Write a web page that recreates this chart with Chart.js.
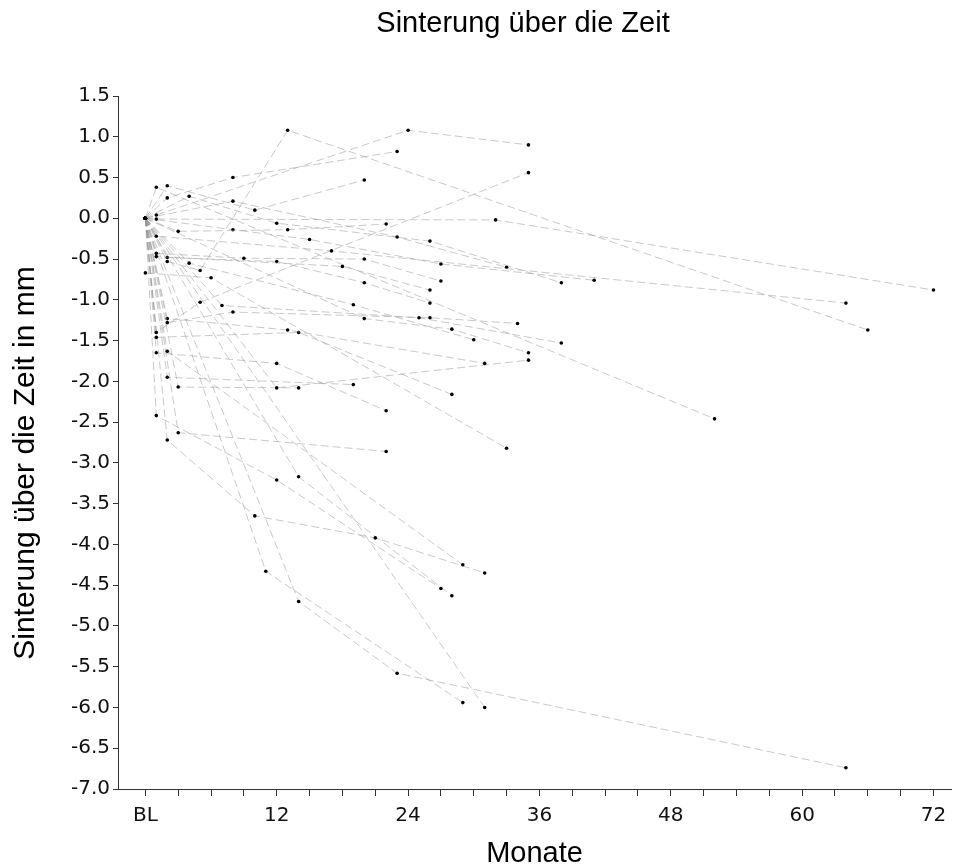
<!DOCTYPE html>
<html lang="de">
<head>
<meta charset="utf-8">
<title>Sinterung über die Zeit</title>
<script src="https://cdn.jsdelivr.net/npm/chart.js@4.4.1/dist/chart.umd.min.js"></script>
<style>
  html, body { margin: 0; padding: 0; background: #fff; }
  #wrap { width: 955px; height: 867px; }
</style>
</head>
<body>
<div id="wrap"><canvas id="sinterChart" width="955" height="867"></canvas></div>
<script>
// Untersuchungszeitpunkte je Patient in Monaten (BL = 0)
const visitMonths = [
  [0, 1, 52],
  [0, 2, 10, 20],
  [0, 2, 8, 23],
  [0, 1, 24, 35],
  [0, 1, 32, 72],
  [0, 2, 5, 13, 66],
  [0, 1, 5, 35],
  [0, 1, 17, 64],
  [0, 4, 12, 26, 38],
  [0, 8, 23, 33],
  [0, 3, 13, 22],
  [0, 8, 15, 27, 41],
  [0, 1, 9, 20, 27],
  [0, 1, 18, 26],
  [0, 2, 12, 20, 26],
  [0, 4, 19, 30],
  [0, 6, 33],
  [0, 7, 25, 38],
  [0, 2, 8, 26, 34],
  [0, 2, 13, 31],
  [0, 1, 14, 28],
  [0, 1, 12, 22],
  [0, 2, 19],
  [0, 12, 35],
  [0, 20, 28, 35],
  [0, 3, 14],
  [0, 2, 29],
  [0, 1, 12, 27],
  [0, 3, 22],
  [0, 2, 10, 21, 31],
  [0, 14, 28],
  [0, 11, 29],
  [0, 14, 23, 64],
  [0, 31],
];

// Sinterung in mm, gleiche Reihenfolge wie visitMonths
const sinterung = [
  [0, 0.38, -2.46],
  [0, 0.40, 0.10, 0.47],
  [0, 0.25, 0.50, 0.82],
  [0, 0.04, 1.08, 0.90],
  [0, -0.01, -0.02, -0.88],
  [0, -0.53, -0.64, 1.08, -1.37],
  [0, -1.40, -1.03, 0.56],
  [0, -0.22, -0.40, -1.04],
  [0, 0.27, -0.06, -0.28, -0.79],
  [0, 0.21, -0.23, -0.60],
  [0, -0.16, -0.14, -0.07],
  [0, -0.14, -0.26, -0.56, -0.76],
  [0, -0.43, -0.49, -0.50, -0.77],
  [0, -0.47, -0.59, -0.88],
  [0, -0.48, -0.53, -0.79, -1.04],
  [0, -0.55, -1.06, -1.49],
  [-0.67, -0.73, -2.82],
  [0, -1.07, -1.22, -1.53],
  [0, -1.28, -1.15, -1.22, -1.29],
  [0, -1.23, -1.37, -1.78],
  [0, -1.46, -1.40, -2.16],
  [0, -1.65, -1.78, -2.36],
  [0, -1.95, -2.04],
  [0, -2.08, -1.74],
  [0, -1.23, -1.36, -1.65],
  [0, -2.07, -2.08],
  [0, -1.63, -4.25],
  [0, -2.42, -3.21, -4.54],
  [0, -2.63, -2.86],
  [0, -2.72, -3.65, -3.92, -4.35],
  [0, -3.17, -4.63],
  [0, -4.33, -5.94],
  [0, -4.70, -5.58, -6.74],
  [0, -6.00],
];

const xTickMonths = [0, 12, 24, 36, 48, 60, 72];
const xTickLabels = ["BL", "12", "24", "36", "48", "60", "72"];

const chartTitle = "Sinterung über die Zeit";
const xTitle = "Monate";
const yTitle = "Sinterung über die Zeit in mm";

// titles drawn by hand so they sit where the original has them
const titlesPlugin = {
  id: "titles",
  afterDraw(chart) {
    const { ctx, chartArea } = chart;
    ctx.save();
    ctx.fillStyle = "#000";
    ctx.textAlign = "center";
    ctx.textBaseline = "alphabetic";
    ctx.font = '29px "Liberation Sans", Arial, sans-serif';
    ctx.fillText(chartTitle, 523, 32);
    ctx.fillText(xTitle, (chartArea.left + chartArea.right) / 2, 862);
    ctx.translate(34, 463);
    ctx.rotate(-Math.PI / 2);
    ctx.font = '30px "Liberation Sans", Arial, sans-serif';
    ctx.fillText(yTitle, 0, 0);
    ctx.restore();
  },
};

const datasets = visitMonths.map((months, i) => ({
  data: months.map((m, j) => ({ x: m, y: sinterung[i][j] })),
  borderColor: "rgba(150,150,150,0.5)",
  borderWidth: 1,
  borderDash: [8, 4],
  pointRadius: 1.8,
  pointBackgroundColor: "#000",
  pointBorderWidth: 0,
  fill: false,
  tension: 0,
}));

const tickFont = { family: "'DejaVu Sans', sans-serif", size: 20 };

const sinterChart = new Chart(document.getElementById("sinterChart"), {
  type: "line",
  data: { datasets: datasets },
  options: {
    responsive: false,
    animation: false,
    layout: { padding: { top: 96, left: 0, right: 0, bottom: 0 } },
    plugins: {
      legend: { display: false },
      tooltip: { enabled: false },
      title: { display: false },
    },
    scales: {
      x: {
        type: "linear",
        min: -2.5,
        max: 73.6,
        afterFit: (scale) => {
          scale.height = 78;
        },
        border: { display: true, color: "#333", width: 1 },
        grid: {
          drawOnChartArea: false,
          drawTicks: true,
          tickLength: 7,
          tickColor: "#333",
        },
        ticks: {
          stepSize: 3,
          includeBounds: false,
          autoSkip: false,
          maxRotation: 0,
          padding: 8,
          color: "#111",
          font: tickFont,
          callback: (value) => {
            const idx = xTickMonths.indexOf(value);
            return idx >= 0 ? xTickLabels[idx] : "";
          },
        },
      },
      y: {
        min: -7,
        max: 1.5,
        afterFit: (scale) => {
          scale.width = 118;
        },
        border: { display: true, color: "#333", width: 1 },
        grid: {
          drawOnChartArea: false,
          drawTicks: true,
          tickLength: 5,
          tickColor: "#333",
        },
        ticks: {
          stepSize: 0.5,
          padding: 3,
          color: "#111",
          font: tickFont,
          callback: (value) => value.toFixed(1),
        },
      },
    },
  },
  plugins: [titlesPlugin],
});
</script>
</body>
</html>
